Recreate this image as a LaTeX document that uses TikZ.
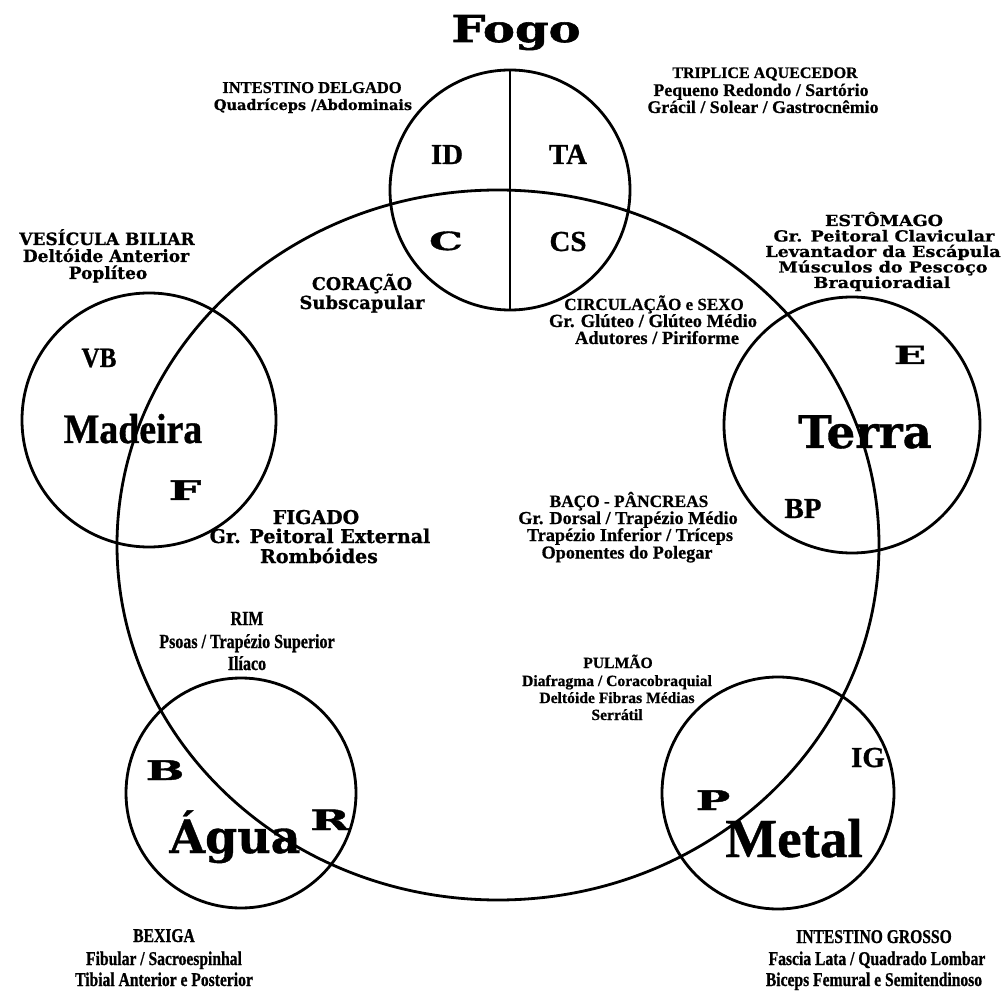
\documentclass[tikz,border=0pt]{standalone}
\usepackage{fontspec}
\usepackage{graphicx}
\usetikzlibrary{shapes.geometric}
\newfontfamily\dvs{DejaVu Serif}[FakeBold=0.8]
\newfontfamily\dvx{DejaVu Serif}[FakeStretch=1.15,FakeBold=0.8]
\newfontfamily\dvwide{DejaVu Serif}[FakeStretch=1.7,FakeBold=1.5]
\newfontfamily\dvfogo{DejaVu Serif}[FakeStretch=1.3,FakeBold=1.5]
\newfontfamily\lib{Liberation Serif}[FakeBold=0.8]
\newfontfamily\libn{Liberation Serif}[FakeStretch=0.9,FakeBold=0.8]
\newfontfamily\libc{Liberation Serif}[FakeStretch=0.8,FakeBold=0.8]
\newcommand\myfs[1]{\fontsize{#1}{#1}\selectfont}
\tikzset{
  ring/.style={circle, draw, line width=2.8pt, inner sep=0pt, outer sep=0pt},
  lbl/.style={anchor=base, inner sep=0pt, outer sep=0pt, text=black},
  fdv/.style={lbl, font={\dvs\bfseries\myfs{#1}}},
  fdx/.style={lbl, font={\dvx\bfseries\myfs{#1}}},
  fbig/.style={lbl, font={\dvwide\bfseries\myfs{#1}}},
  ffogo/.style={lbl, font={\dvfogo\bfseries\myfs{#1}}},
  flb/.style={lbl, font={\lib\bfseries\myfs{#1}}},
  fln/.style={lbl, font={\libn\bfseries\myfs{#1}}},
  flc/.style={lbl, font={\libc\bfseries\myfs{#1}}},
}
\begin{document}
\begin{tikzpicture}[x=1pt,y=-1pt]
\useasboundingbox (0,0) rectangle (1005,992);
% circles
\node[draw, ellipse, line width=2.8pt, inner sep=0pt, outer sep=0pt, minimum width=762pt, minimum height=710pt] (cycle) at (498,545) {};
\node[ring, minimum size=240pt] (fire) at (510,190) {};
\node[ring, minimum size=254pt] (wood) at (149,420) {};
\node[ring, minimum size=256pt] (earth) at (852,425) {};
\node[ring, minimum size=230pt] (water) at (241,793) {};
\node[ring, minimum size=232pt] (metalc) at (778,793) {};
\draw[line width=2.8pt] (fire.north) -- (fire.south);

% Fogo
\node[ffogo=37] (fogo) at (516,42) {Fogo};
\node[flb=16.5] (idt1) at (312,93) {INTESTINO DELGADO};
\node[fdv=14.5] (idt2) at (313,110) {Quadríceps /Abdominais};
\node[flb=16] (ta1) at (765,78) {TRIPLICE AQUECEDOR};
\node[flb=17.8] (ta2) at (761,96) {Pequeno Redondo / Sartório};
\node[flb=17.8] (ta3) at (763,113) {Grácil / Solear / Gastrocnêmio};
\node[flb=29] (idl) at (447,164) {ID};
\node[flb=29] (tal) at (568,164) {TA};
\node[fbig=25] (cl) at (446,250) {C};
\node[flb=29] (csl) at (568,251) {CS};

% Madeira
\node[fdv=17] (vb1) at (107,245) {VESÍCULA BILIAR};
\node[fdv=17] (vb2) at (106,262) {Deltóide Anterior};
\node[fdv=17] (vb3) at (108,279) {Poplíteo};
\node[fln=28] (vbl) at (99,367) {VB};
\node[fln=42] (madeira) at (133,443) {Madeira};
\node[fbig=27] (fl) at (185,500) {F};

% Terra
\node[fdx=15.3] (es1) at (884,226) {ESTÔMAGO};
\node[fdx=15.3] (es2) at (884,241.5) {Gr. Peitoral Clavicular};
\node[fdx=15.3] (es3) at (883,257) {Levantador da Escápula};
\node[fdx=15.3] (es4) at (883,272.5) {Músculos do Pescoço};
\node[fdx=15.3] (es5) at (882,288) {Braquioradial};
\node[fbig=25] (el) at (910,364) {E};
\node[fdv=45] (terra) at (865,448) {Terra};
\node[flb=29] (bpl) at (803,518) {BP};

% Coracao / Circulacao
\node[fdv=17.5] (co1) at (362,290) {CORAÇÃO};
\node[fdv=18] (co2) at (362,309) {Subscapular};
\node[flb=17] (cs1) at (654,310) {CIRCULAÇÃO e SEXO};
\node[flb=18.5] (cs2) at (653,327) {Gr. Glúteo / Glúteo Médio};
\node[flb=18.5] (cs3) at (657,344) {Adutores / Piriforme};

% Figado / Baco
\node[fdv=19] (fi1) at (316,524) {FIGADO};
\node[fdv=19] (fi2) at (320,543) {Gr. Peitoral External};
\node[fdv=19] (fi3) at (319,563) {Rombóides};
\node[flb=17.3] (ba1) at (629,507) {BAÇO - PÂNCREAS};
\node[flb=18.2] (ba2) at (628,524) {Gr. Dorsal / Trapézio Médio};
\node[flb=18.2] (ba3) at (630,541) {Trapézio Inferior / Tríceps};
\node[flb=18.2] (ba4) at (627,558.5) {Oponentes do Polegar};

% Rim / Pulmao
\node[flc=20] (ri1) at (247,625) {RIM};
\node[flc=20] (ri2) at (247,648) {Psoas / Trapézio Superior};
\node[flc=20] (ri3) at (247,670) {Ilíaco};
\node[flb=15.6] (pu1) at (618,668) {PULMÃO};
\node[flb=15.6] (pu2) at (617,686) {Diafragma / Coracobraquial};
\node[flb=15.6] (pu3) at (617,703) {Deltóide Fibras Médias};
\node[flb=15.6] (pu4) at (617,720) {Serrátil};

% Metal
\node[flb=29] (igl) at (868,767) {IG};
\node[fbig=27] (pl) at (713,810) {P};
\node[flb=55] (metal) at (794,857) {Metal};

% Agua
\node[fbig=27] (bletter) at (165,780) {B};
\node[fbig=28] (rletter) at (330,830) {R};
\node[fdv=46] (agua) at (235,853) {Água};

% bottom labels
\node[flc=19.5] (bx1) at (164,942) {BEXIGA};
\node[flc=19.5] (bx2) at (164,965) {Fibular / Sacroespinhal};
\node[flc=19.5] (bx3) at (164,986) {Tibial Anterior e Posterior};
\node[flc=19.5] (ig1) at (874,943) {INTESTINO GROSSO};
\node[flc=19.5] (ig2) at (877,965) {Fascia Lata / Quadrado Lombar};
\node[flc=19.5] (ig3) at (874,986) {Biceps Femural e Semitendinoso};
\end{tikzpicture}
\end{document}
